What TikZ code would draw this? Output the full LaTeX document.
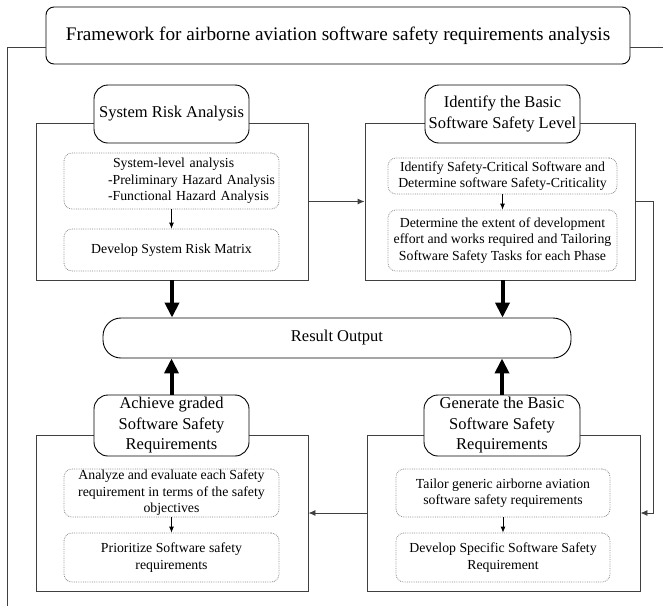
\documentclass[tikz,border=0pt]{standalone}
\usepackage{fontspec}
\setmainfont{Liberation Serif}
\usetikzlibrary{arrows.meta}

\begin{document}
\begin{tikzpicture}[x=1pt,y=-1pt,
	outerbox/.style={draw=black!75,line width=0.9pt,inner sep=0pt},
	titlebox/.style={draw,fill=white,rounded corners=14pt,line width=0.9pt,inner sep=0pt,align=center,font=\fontsize{16.5}{20.5}\selectfont},
	innerbox/.style={draw=black!45,densely dotted,rounded corners=8pt,line width=0.8pt,inner sep=0pt,align=center,font=\fontsize{13.8}{16.5}\selectfont},
	conn/.style={draw=black!75,line width=0.9pt,-{Latex[length=7pt,width=6pt]}},
	line/.style={draw=black!75,line width=0.9pt},
	bigarrow/.style={line width=4pt,-{Triangle[length=15pt,width=14pt]}},
	smallarrow/.style={line width=0.8pt,-{Latex[length=6pt,width=5pt]}}]
	\useasboundingbox (0,0) rectangle (663,606);
	% heading
	\node[draw,rounded corners=8pt,line width=0.9pt,minimum width=584pt,minimum height=57pt,font=\fontsize{19.2}{23}\selectfont] (frame) at (338,35.5) {Framework for airborne aviation software safety requirements analysis};
	\coordinate (lbot) at (7,606);
	\coordinate (rend) at (663,47);
	\draw[line] ([yshift=-11.5pt]frame.west) -| (lbot);
	\draw[line] ([yshift=-11.5pt]frame.east) -- (rend);
	% outer boxes
	\node[outerbox,minimum width=272pt,minimum height=157pt] (riskbox) at (172,201.5) {};
	\node[outerbox,minimum width=270pt,minimum height=157pt] (levelbox) at (500,201.5) {};
	\node[outerbox,minimum width=272pt,minimum height=156pt] (gradedbox) at (172,513) {};
	\node[outerbox,minimum width=273pt,minimum height=156pt] (basicbox) at (503.5,513) {};
	% titles
	\node[titlebox,minimum width=155pt,minimum height=58pt] (risktitle) at (171.5,114) {System Risk Analysis};
	\node[titlebox,minimum width=155pt,minimum height=58pt] (leveltitle) at (502.5,114) {Identify the Basic\\Software Safety Level};
	\node[titlebox,minimum width=155pt,minimum height=61pt] (gradedtitle) at (171.5,425.5) {Achieve graded\\Software Safety\\Requirements};
	\node[titlebox,minimum width=156pt,minimum height=61pt] (basictitle) at (502,425.5) {Generate the Basic\\Software Safety\\Requirements};
	\node[titlebox,rounded corners=18pt,minimum width=468pt,minimum height=40pt] (result) at (337,338) {Result Output};
	% inner steps
	\node[innerbox,text width=215pt,align=left,minimum height=56pt] (risk1) at (171.5,181) {\hspace*{49pt}System-level analysis\\\hspace*{44pt}-Preliminary Hazard Analysis\\\hspace*{44pt}-Functional Hazard Analysis};
	\node[innerbox,minimum width=215pt,minimum height=42pt] (risk2) at (171.5,250) {Develop System Risk Matrix};
	\node[innerbox,minimum width=229pt,minimum height=36pt] (level1) at (502.5,176) {Identify Safety-Critical Software and\\Determine software Safety-Criticality};
	\node[innerbox,minimum width=229pt,minimum height=61pt] (level2) at (502.5,240.5) {Determine the extent of development\\effort and works required and Tailoring\\Software Safety Tasks for each Phase};
	\node[innerbox,minimum width=215pt,minimum height=48pt] (graded1) at (171.5,493) {Analyze  and evaluate each Safety\\requirement in terms of the safety\\objectives};
	\node[innerbox,minimum width=215pt,minimum height=49pt] (graded2) at (171.5,557.5) {Prioritize Software safety\\requirements};
	\node[innerbox,minimum width=214pt,minimum height=48pt] (basic1) at (503,493) {Tailor generic airborne aviation\\software safety requirements};
	\node[innerbox,minimum width=214pt,minimum height=49pt] (basic2) at (503,557.5) {Develop Specific Software Safety\\Requirement};
	\foreach \a/\b in {risk1/risk2,level1/level2,graded1/graded2,basic1/basic2}
		\draw[smallarrow] (\a.south) -- (\b.north);
	% flow between stages
	\draw[conn] (riskbox.east) -- (levelbox.west);
	\draw[conn] (levelbox.east) -- ++(18,0) |- (basicbox.east);
	\draw[conn] (basicbox.west) -- (gradedbox.east);
	\draw[bigarrow] (riskbox.south) -- (riskbox.south |- result.north);
	\draw[bigarrow] (leveltitle |- levelbox.south) -- (leveltitle |- result.north);
	\draw[bigarrow] (gradedtitle.north) -- (gradedtitle.north |- result.south);
	\draw[bigarrow] (basictitle.north) -- (basictitle.north |- result.south);
\end{tikzpicture}
\end{document}
